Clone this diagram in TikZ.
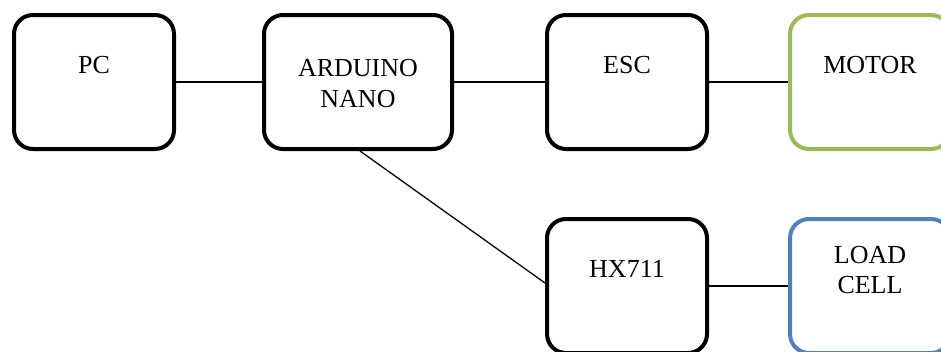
\documentclass[tikz,border=0pt]{standalone}
\usepackage{fontspec}
\setmainfont{Liberation Serif}
\usetikzlibrary{calc}
\definecolor{mgreen}{HTML}{9BBB59}
\definecolor{mblue}{HTML}{4F81BD}
\begin{document}
\begin{tikzpicture}[x=1pt,y=-1pt,
  blk/.style={draw=black,line width=4pt,rounded corners=19pt,minimum height=134pt,minimum width=160pt,inner sep=0pt},
  lbl/.style={font=\fontsize{26}{31}\selectfont,anchor=base,inner sep=0pt},
  wire/.style={line width=1.3pt}]
\useasboundingbox (0,0) rectangle (941,351);
\node[blk] (pc) at (94,82) {};
\node[blk,minimum width=188pt] (ard) at (358,82) {};
\node[blk] (esc) at (627,82) {};
\node[blk,draw=mgreen] (mot) at (870,82) {};
\node[blk] (hx) at (627,286) {};
\node[blk,draw=mblue] (lc) at (870,286) {};
\node[lbl] (tpc) at (94,73) {PC};
\node[lbl] (tard1) at (358,76) {ARDUINO};
\node[lbl] (tard2) at (358,107) {NANO};
\node[lbl] (tesc) at (627,73) {ESC};
\node[lbl] (tmot) at (870,73) {MOTOR};
\node[lbl] (thx) at (627,277) {HX711};
\node[lbl] (tlc1) at (870,263) {LOAD};
\node[lbl] (tlc2) at (870,293) {CELL};
\draw[wire] (pc) -- (ard);
\draw[wire] (ard) -- (esc);
\draw[wire] (esc) -- (mot);
\draw[wire] (hx) -- (lc);
\draw[wire] ($(ard.south)+(2,0)$) -- ($(hx.west)+(0,-3)$);
\end{tikzpicture}
\end{document}
